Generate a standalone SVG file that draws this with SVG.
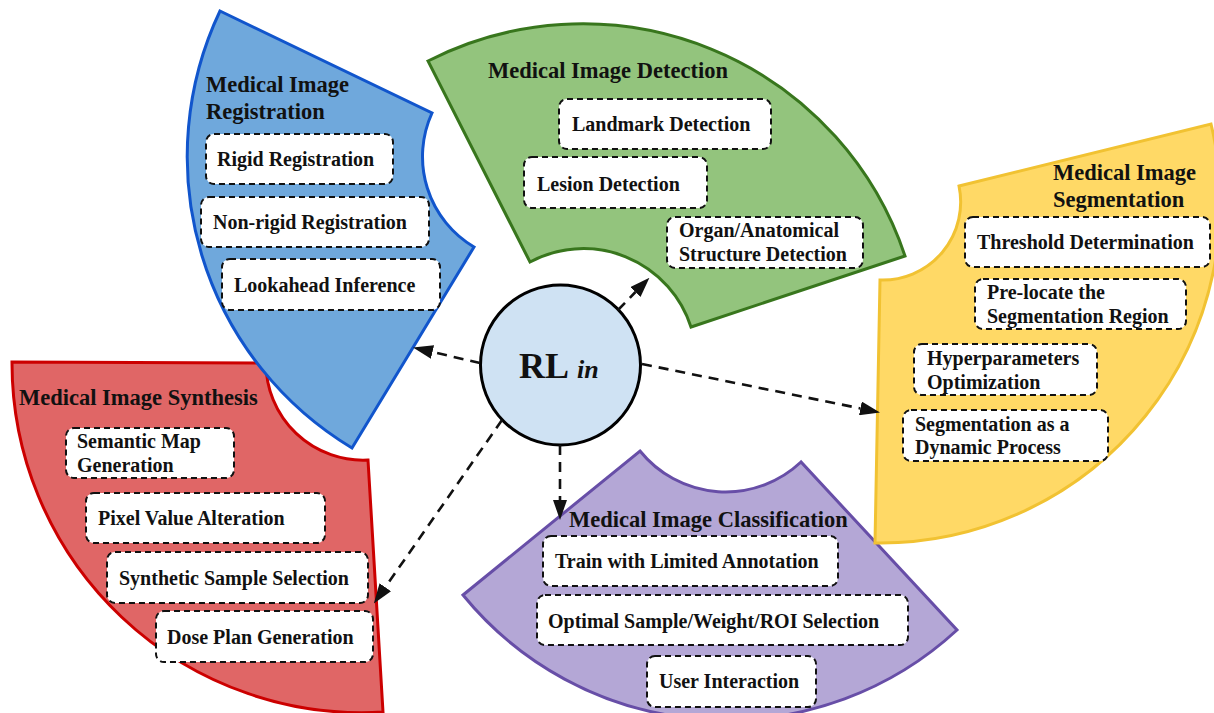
<svg xmlns="http://www.w3.org/2000/svg" width="1214" height="713" viewBox="0 0 1214 713">
  <defs>
    <style>
      .sector { stroke-width: 3; stroke-linejoin: miter; }
      .reg  { fill: #6FA8DC; stroke: #1155CC; }
      .det  { fill: #93C47D; stroke: #38761D; }
      .seg  { fill: #FFD966; stroke: #F1C232; }
      .syn  { fill: #E06666; stroke: #CC0000; }
      .cls  { fill: #B4A7D6; stroke: #674EA7; }
      .title { font-family: "Liberation Serif", "Times New Roman", serif; font-weight: bold; font-size: 22.5px; fill: #111; }
      .item  { fill: #fff; stroke: #111; stroke-width: 2; stroke-dasharray: 6 4; }
      .label { font-family: "Liberation Serif", "Times New Roman", serif; font-weight: bold; font-size: 20px; fill: #111; }
      .link  { fill: none; stroke: #111; stroke-width: 2.6; stroke-dasharray: 10 7; }
    </style>
    <marker id="head" markerUnits="userSpaceOnUse" markerWidth="20" markerHeight="14" refX="0" refY="7" orient="auto">
      <path d="M0,0 L20,7 L0,14 Z" fill="#111"/>
    </marker>
  </defs>

  <rect width="1214" height="713" fill="#fff"/>

  <!-- Synthesis sector -->
  <g id="synthesis">
    <path class="sector syn" d="M12,362 L266,363 A97,97 0 0 0 368,460 L383,712 A350,350 0 0 1 12,362 Z"/>
    <text class="title" x="19" y="405">Medical Image Synthesis</text>
    <rect class="item" x="66" y="428" width="168" height="50" rx="8"/>
    <text class="label" x="77" y="448">Semantic Map</text>
    <text class="label" x="77" y="472">Generation</text>
    <rect class="item" x="86" y="493" width="239" height="50" rx="8"/>
    <text class="label" x="98" y="525">Pixel Value Alteration</text>
    <rect class="item" x="107" y="552" width="261" height="51" rx="8"/>
    <text class="label" x="119" y="585">Synthetic Sample Selection</text>
    <rect class="item" x="156" y="611" width="217" height="51" rx="8"/>
    <text class="label" x="167" y="644">Dose Plan Generation</text>
  </g>

  <!-- Classification sector -->
  <g id="classification">
    <path class="sector cls" d="M463,595 L640,451 A110,110 0 0 0 801,462 L957,630 A340,340 0 0 1 463,595 Z"/>
    <text class="title" x="569" y="527">Medical Image Classification</text>
    <rect class="item" x="543" y="536" width="295" height="50" rx="8"/>
    <text class="label" x="555" y="568">Train with Limited Annotation</text>
    <rect class="item" x="537" y="595" width="371" height="50" rx="8"/>
    <text class="label" x="548" y="628">Optimal Sample/Weight/ROI Selection</text>
    <rect class="item" x="647" y="656" width="169" height="51" rx="8"/>
    <text class="label" x="659" y="688">User Interaction</text>
  </g>

  <!-- Registration sector -->
  <g id="registration">
    <path class="sector reg" d="M220,11 L432,113 A105,105 0 0 0 474,247 L352,448 A340,340 0 0 1 220,11 Z"/>
    <text class="title" x="206" y="92">Medical Image</text>
    <text class="title" x="206" y="119">Registration</text>
    <rect class="item" x="206" y="134" width="187" height="50" rx="8"/>
    <text class="label" x="217" y="166">Rigid Registration</text>
    <rect class="item" x="201" y="197" width="228" height="50" rx="8"/>
    <text class="label" x="213" y="229">Non-rigid Registration</text>
    <rect class="item" x="222" y="259" width="218" height="51" rx="8"/>
    <text class="label" x="234" y="292">Lookahead Inference</text>
  </g>

  <!-- Detection sector -->
  <g id="detection">
    <path class="sector det" d="M428,61 A340,340 0 0 1 905,256 L691,327 A113,113 0 0 0 530,262 Z"/>
    <text class="title" x="488" y="78">Medical Image Detection</text>
    <rect class="item" x="559" y="99" width="212" height="50" rx="8"/>
    <text class="label" x="572" y="131">Landmark Detection</text>
    <rect class="item" x="524" y="157" width="183" height="51" rx="8"/>
    <text class="label" x="537" y="191">Lesion Detection</text>
    <rect class="item" x="667" y="217" width="196" height="51" rx="8"/>
    <text class="label" x="679" y="237">Organ/Anatomical</text>
    <text class="label" x="679" y="261">Structure Detection</text>
  </g>

  <!-- Segmentation sector -->
  <g id="segmentation">
    <path class="sector seg" d="M959,186 L1211,124 A340,340 0 0 1 875,543 L880,280 A78,78 0 0 0 959,186 Z"/>
    <text class="title" x="1053" y="180">Medical Image</text>
    <text class="title" x="1053" y="207">Segmentation</text>
    <rect class="item" x="965" y="217" width="245" height="50" rx="8"/>
    <text class="label" x="977" y="249">Threshold Determination</text>
    <rect class="item" x="975" y="279" width="211" height="50" rx="8"/>
    <text class="label" x="987" y="299">Pre-locate the</text>
    <text class="label" x="987" y="323">Segmentation Region</text>
    <rect class="item" x="914" y="344" width="183" height="51" rx="8"/>
    <text class="label" x="927" y="365">Hyperparameters</text>
    <text class="label" x="927" y="389">Optimization</text>
    <rect class="item" x="903" y="410" width="205" height="51" rx="8"/>
    <text class="label" x="915" y="431">Segmentation as a</text>
    <text class="label" x="915" y="454">Dynamic Process</text>
  </g>

  <!-- Central hub -->
  <g id="hub">
    <circle cx="560.5" cy="365" r="80" fill="#CFE2F3" stroke="#000" stroke-width="3"/>
    <text x="519" y="378" font-family="Liberation Serif, Times New Roman, serif" font-weight="bold" font-size="36" fill="#111">RL<tspan dx="8" font-style="italic" font-size="26">in</tspan></text>
  </g>

  <!-- Connectors from the hub to each application area -->
  <g id="connectors">
    <path class="link" d="M480,363 L432.5,352" marker-end="url(#head)"/>
    <path class="link" d="M618,310 L635.5,292" marker-end="url(#head)"/>
    <path class="link" d="M642,364 L860.4,408.4" marker-end="url(#head)"/>
    <path class="link" d="M560,445 L560,500" marker-end="url(#head)"/>
    <path class="link" d="M502,420 L385.3,587.2" marker-end="url(#head)"/>
  </g>
</svg>
